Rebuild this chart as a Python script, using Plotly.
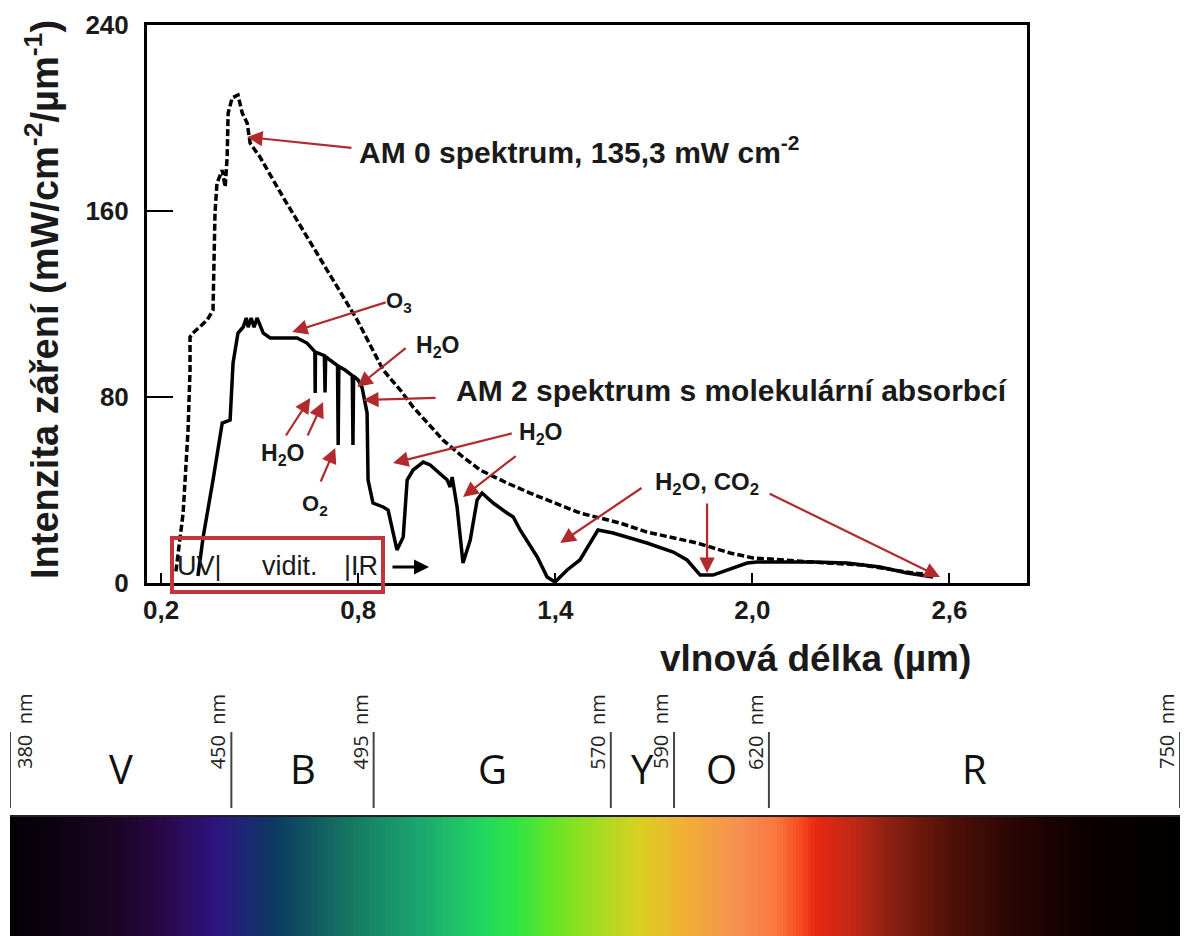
import numpy as np
import plotly.graph_objects as go

W, H = 1194, 936

# --- solar irradiance spectra (wavelength in µm, intensity in mW/cm2/µm) ---
am0_wl = [0.245, 0.267, 0.282, 0.288, 0.288, 0.297, 0.340, 0.358, 0.364, 0.370, 0.386,
          0.395, 0.401, 0.404, 0.416, 0.434, 0.447, 0.462, 0.471, 0.501, 0.571, 0.644,
          0.736, 0.797, 0.876, 0.928, 0.967, 1.058, 1.119, 1.171, 1.253, 1.323, 1.475,
          1.597, 1.679, 1.832, 1.932, 2.002, 2.185, 2.337, 2.489, 2.550]
am0_val = [5.0, 30.1, 65.8, 91.6, 105.8, 107.5, 113.1, 117.4, 159.1, 172.0, 177.6,
           170.3, 183.2, 202.1, 208.6, 209.9, 202.1, 197.8, 189.2, 183.2, 166.0, 148.8,
           127.3, 113.1, 91.6, 83.0, 75.7, 61.5, 54.2, 48.6, 43.0, 38.7, 30.1,
           25.8, 21.9, 17.2, 12.9, 10.8, 9.0, 7.7, 4.3, 3.4]

am2_wl = [0.312, 0.328, 0.358, 0.386, 0.410, 0.419, 0.434, 0.450, 0.459, 0.465, 0.474,
          0.483, 0.492, 0.501, 0.511, 0.532, 0.614, 0.644, 0.663, 0.668, 0.669, 0.670,
          0.678, 0.697, 0.699, 0.701, 0.714, 0.737, 0.739, 0.741, 0.760, 0.782, 0.784,
          0.786, 0.800, 0.812, 0.827, 0.830, 0.845, 0.876, 0.891, 0.906, 0.918, 0.937,
          0.949, 0.967, 0.998, 1.019, 1.071, 1.080, 1.086, 1.101, 1.119, 1.141, 1.162,
          1.177, 1.211, 1.253, 1.272, 1.293, 1.345, 1.375, 1.399, 1.436, 1.475, 1.506,
          1.530, 1.576, 1.679, 1.759, 1.801, 1.841, 1.880, 1.984, 2.014, 2.185, 2.288,
          2.389, 2.471, 2.550]
am2_val = [3.0, 19.8, 44.3, 68.8, 70.1, 94.6, 107.5, 110.1, 114.0, 110.0, 114.0,
           110.0, 114.0, 111.0, 107.5, 105.4, 105.4, 103.2, 100.2, 99.5, 81.7, 99.3,
           98.9, 97.8, 81.9, 97.4, 95.9, 93.5, 59.4, 93.1, 91.6, 89.2, 59.4,
           89.0, 87.3, 83.9, 73.1, 44.3, 34.4, 32.7, 31.4, 21.5, 14.2, 19.8,
           44.3, 48.6, 52.0, 50.8, 44.3, 41.3, 45.6, 32.7, 8.6, 18.5, 35.7,
           38.7, 34.4, 30.1, 28.4, 22.8, 11.2, 2.6, 0.4, 5.6, 9.9, 17.2,
           22.8, 21.5, 17.2, 13.3, 9.9, 3.4, 3.4, 8.6, 9.0, 9.0, 8.6,
           6.9, 4.3, 2.6]

x_ticks = [0.2, 0.8, 1.4, 2.0, 2.6]
x_ticklabels = ["0,2", "0,8", "1,4", "2,0", "2,6"]
y_ticks = [0, 80, 160, 240]

# --- visible spectrum band (nm) ---
band_edges = [380, 450, 495, 570, 590, 620, 750]
band_names = ["V", "B", "G", "Y", "O", "R"]
color_stops_nm = [380, 413, 429, 445, 456, 464, 486, 510, 529, 540, 552, 561, 579,
                  591, 610, 622, 630, 635, 647, 659, 678, 697, 721, 750]
color_stops = ["#030005", "#1a0525", "#2a0848", "#2d1480", "#1b2a72", "#0c3a62",
               "#157462", "#1ba86e", "#22d562", "#2ee445", "#68e425", "#90e020",
               "#d8d020", "#f0b430", "#f59050", "#f87840", "#f84a20", "#e82810",
               "#c02818", "#882010", "#501008", "#2a0604", "#0c0000", "#000000"]

FONT = "Liberation Sans, Arial, sans-serif"
SPEC_FONT = "Open Sans, sans-serif"
RED = "#b02a2e"
NBSP = "\u00a0"


def px(x):
    return x / W


def py(y):
    return 1 - y / H


fig = go.Figure()

fig.add_trace(go.Scatter(x=am0_wl, y=am0_val, mode="lines",
                         line=dict(color="black", width=3.5, dash="7px,3px"),
                         showlegend=False, hoverinfo="skip"))
fig.add_trace(go.Scatter(x=am2_wl, y=am2_val, mode="lines",
                         line=dict(color="black", width=3.5),
                         showlegend=False, hoverinfo="skip"))

# colour strip of the visible range
nm_grid = np.arange(band_edges[0], band_edges[-1] + 1)
lo, hi = band_edges[0], band_edges[-1]
cscale = [[(s - lo) / (hi - lo), c] for s, c in zip(color_stops_nm, color_stops)]
fig.add_trace(go.Heatmap(x=nm_grid, y=[0, 1], z=[nm_grid, nm_grid], zmin=lo, zmax=hi,
                         colorscale=cscale, showscale=False, hoverinfo="skip",
                         xaxis="x2", yaxis="y2"))

ann = []


def paper_text(x, y, text, size, bold=True, family=FONT, color="#1a1a1a", angle=0):
    ann.append(dict(x=px(x), y=py(y), xref="paper", yref="paper", text=text,
                    showarrow=False, xanchor="center", yanchor="middle", textangle=angle,
                    font=dict(family=family, size=size, color=color,
                              weight="bold" if bold else "normal")))


# axis titles
paper_text(42, 300, "Intenzita záření (mW/cm<sup>-2</sup>/µm<sup>-1</sup>)", 38, angle=-90)
paper_text(815, 658, "vlnová délka (µm)", 37)

# labelled red arrows: (head x, head y, tail x, tail y)
arrows = [
    (0.462, 191.8, 0.784, 187.1),
    (0.599, 108.0, 0.888, 120.9),
    (0.797, 84.3, 0.949, 101.5),
    (0.815, 78.7, 1.040, 79.6),
    (0.654, 79.6, 0.577, 62.8),
    (0.693, 77.8, 0.644, 62.8),
    (0.730, 58.1, 0.684, 43.0),
    (0.906, 51.6, 1.272, 64.5),
    (1.119, 37.0, 1.284, 55.1),
    (1.415, 17.2, 1.667, 41.3),
    (1.862, 4.3, 1.862, 34.8),
    (2.571, 2.6, 2.048, 38.7),
]
for hx, hy, tx, ty in arrows:
    ann.append(dict(x=hx, y=hy, ax=tx, ay=ty, xref="x", yref="y", axref="x", ayref="y",
                    text="", showarrow=True, arrowhead=2, arrowsize=1.4, arrowwidth=2.2,
                    arrowcolor=RED))

labels = [
    (0.797, 186.2, "AM 0 spektrum, 135,3 mW cm<sup>-2</sup>", "left", 30),
    (0.925, 120.9, "O<sub>3</sub>", "center", 22),
    (1.040, 101.9, "H<sub>2</sub>O", "center", 23),
    (1.093, 83.0, "AM 2 spektrum s molekulární absorbcí", "left", 30),
    (0.571, 55.1, "H<sub>2</sub>O", "center", 23),
    (0.669, 33.5, "O<sub>2</sub>", "center", 22),
    (1.354, 64.1, "H<sub>2</sub>O", "center", 23),
    (1.862, 43.0, "H<sub>2</sub>O, CO<sub>2</sub>", "center", 24),
]
for lx, ly, txt, anchor, size in labels:
    ann.append(dict(x=lx, y=ly, xref="x", yref="y", text=txt, showarrow=False,
                    xanchor=anchor, yanchor="middle",
                    font=dict(family=FONT, size=size, color="#1a1a1a", weight="bold")))

# UV / visible / IR marker box
for xc, txt in [(199, "UV|"), (290, "vidit."), (361, "|IR")]:
    paper_text(xc, 566, txt, 27, bold=False, color="#1a1a1a")
ann.append(dict(x=px(429), y=py(567), ax=-38, ay=0, xref="paper", yref="paper",
                text="", showarrow=True, arrowhead=2, arrowsize=1.0, arrowwidth=3,
                arrowcolor="black"))

# spectrum strip labels
for name, a, b in zip(band_names, band_edges[:-1], band_edges[1:]):
    ann.append(dict(x=(a + b) / 2, y=py(768), xref="x2", yref="paper", text=name,
                    showarrow=False, xanchor="center", yanchor="middle",
                    font=dict(family=SPEC_FONT, size=40, color="#111111")))
for i, e in enumerate(band_edges):
    ann.append(dict(x=e, y=py(732), xref="x2", yref="paper",
                    text=f"{e}{NBSP}{NBSP}nm", textangle=-90, showarrow=False,
                    xanchor="center", yanchor="middle", xshift=14 if i == 0 else -14,
                    font=dict(family=SPEC_FONT, size=20, color="#222222")))

shapes = [
    dict(type="rect", xref="paper", yref="paper", x0=px(172), x1=px(383),
         y0=py(592), y1=py(538), line=dict(color="#c0363c", width=4)),
    dict(type="line", xref="x2", yref="paper", x0=lo, x1=hi, y0=py(816), y1=py(816),
         line=dict(color="#222222", width=2)),
]
for e in band_edges:
    shapes.append(dict(type="line", xref="x2", yref="paper", x0=e, x1=e,
                       y0=py(808), y1=py(732), line=dict(color="#444444", width=2)))

fig.update_layout(
    width=W, height=H, margin=dict(l=0, r=0, t=0, b=0, autoexpand=False),
    paper_bgcolor="white", plot_bgcolor="white", showlegend=False,
    xaxis=dict(domain=[px(147), px(1027)], range=[0.157, 2.836], automargin=False,
               tickvals=x_ticks, ticktext=x_ticklabels, ticks="inside", ticklen=10,
               tickwidth=2, tickcolor="black", showgrid=False, zeroline=False,
               showline=True, linewidth=3, linecolor="black", mirror=True,
               ticklabelstandoff=2,
               tickfont=dict(family=FONT, size=26, color="#1a1a1a", weight="bold")),
    yaxis=dict(domain=[py(583), py(25)], range=[0, 240], tickvals=y_ticks,
               automargin=False, ticks="inside", ticklen=26, tickwidth=2,
               tickcolor="black", showgrid=False, zeroline=False, showline=True,
               linewidth=3, linecolor="black", mirror=True, ticklabelstandoff=10,
               tickfont=dict(family=FONT, size=26, color="#1a1a1a", weight="bold")),
    xaxis2=dict(domain=[px(10), px(1180)], range=[lo, hi], visible=False,
                automargin=False, anchor="y2"),
    yaxis2=dict(domain=[0, py(816)], range=[0, 1], visible=False, automargin=False,
                anchor="x2"),
    annotations=ann, shapes=shapes,
)

fig.write_html("out.html")
